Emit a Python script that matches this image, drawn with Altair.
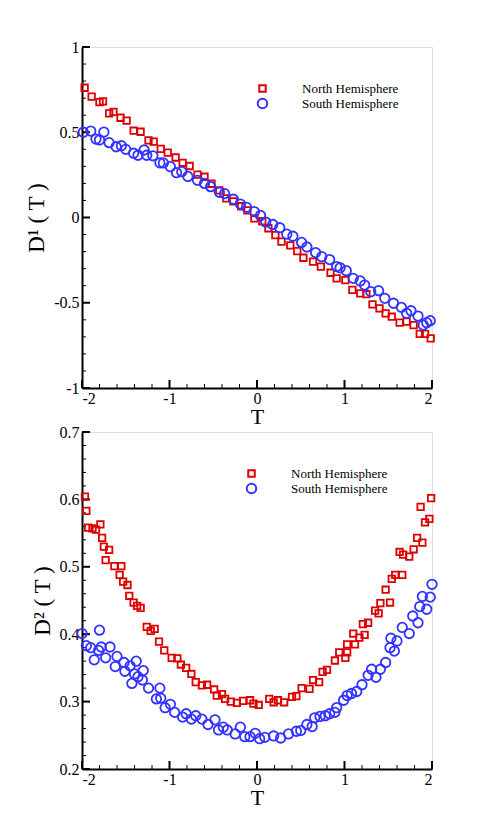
import altair as alt
import pandas as pd

# ---------------- data: top panel D1(T) ----------------
T1_N = [-1.97, -1.89, -1.80, -1.76, -1.69, -1.64, -1.56, -1.49, -1.41, -1.33,
        -1.24, -1.18, -1.10, -1.02, -0.93, -0.85, -0.77, -0.68, -0.60, -0.52,
        -0.43, -0.35, -0.27, -0.18, -0.11, -0.03, 0.06, 0.13, 0.21, 0.28,
        0.38, 0.46, 0.53, 0.64, 0.73, 0.84, 0.91, 1.01, 1.09, 1.18,
        1.25, 1.32, 1.40, 1.47, 1.54, 1.63, 1.71, 1.79, 1.86, 1.92, 1.985]
D1_N = [0.761, 0.709, 0.677, 0.681, 0.611, 0.620, 0.585, 0.568, 0.509, 0.503,
        0.452, 0.445, 0.403, 0.380, 0.352, 0.321, 0.302, 0.251, 0.239, 0.198,
        0.159, 0.112, 0.095, 0.066, 0.042, -0.005, -0.022, -0.063, -0.103, -0.142,
        -0.164, -0.197, -0.236, -0.259, -0.288, -0.324, -0.357, -0.367, -0.425, -0.445,
        -0.450, -0.509, -0.533, -0.562, -0.582, -0.617, -0.611, -0.631, -0.683, -0.683, -0.709]
T1_S = [-1.985, -1.90, -1.84, -1.80, -1.75, -1.69, -1.61, -1.55, -1.50, -1.41,
        -1.36, -1.29, -1.26, -1.19, -1.11, -1.07, -0.99, -0.92, -0.86, -0.79,
        -0.68, -0.60, -0.53, -0.43, -0.37, -0.27, -0.19, -0.12, -0.03, 0.04,
        0.10, 0.18, 0.26, 0.34, 0.41, 0.51, 0.57, 0.67, 0.74, 0.83,
        0.91, 0.95, 1.02, 1.10, 1.18, 1.23, 1.30, 1.39, 1.46, 1.56,
        1.65, 1.71, 1.76, 1.84, 1.90, 1.94, 1.98]
D1_S = [0.500, 0.507, 0.460, 0.455, 0.501, 0.439, 0.415, 0.421, 0.400, 0.377,
        0.365, 0.396, 0.365, 0.362, 0.321, 0.320, 0.298, 0.263, 0.269, 0.241,
        0.218, 0.200, 0.181, 0.148, 0.140, 0.107, 0.079, 0.060, 0.034, 0.012,
        -0.027, -0.041, -0.060, -0.098, -0.110, -0.146, -0.173, -0.206, -0.230, -0.247,
        -0.288, -0.295, -0.312, -0.357, -0.372, -0.396, -0.435, -0.429, -0.474, -0.503,
        -0.527, -0.562, -0.547, -0.578, -0.631, -0.617, -0.605]

# ---------------- data: bottom panel D2(T) ----------------
T2_N = [-1.966, -1.95, -1.93, -1.88, -1.84, -1.79, -1.77, -1.75, -1.73, -1.69,
        -1.63, -1.55, -1.57, -1.53, -1.48, -1.46, -1.41, -1.37, -1.33, -1.26,
        -1.215, -1.17, -1.12, -1.06, -0.975, -0.91, -0.87, -0.81, -0.75, -0.70,
        -0.63, -0.57, -0.49, -0.46, -0.40, -0.365, -0.30, -0.23, -0.16, -0.08,
        -0.04, 0.02, 0.14, 0.19, 0.24, 0.31, 0.40, 0.45, 0.51, 0.60,
        0.64, 0.71, 0.75, 0.80, 0.89, 0.94, 1.01, 1.03, 1.03, 1.10,
        1.12, 1.17, 1.23, 1.21, 1.27, 1.35, 1.39, 1.41, 1.47, 1.52,
        1.54, 1.58, 1.66, 1.63, 1.67, 1.74, 1.79, 1.83, 1.89, 1.92,
        1.97, 1.87, 1.99]
D2_N = [0.604, 0.583, 0.558, 0.557, 0.555, 0.563, 0.543, 0.530, 0.510, 0.525,
        0.501, 0.501, 0.488, 0.478, 0.473, 0.457, 0.447, 0.442, 0.439, 0.411,
        0.405, 0.408, 0.389, 0.376, 0.365, 0.364, 0.355, 0.350, 0.341, 0.329,
        0.324, 0.325, 0.318, 0.309, 0.311, 0.304, 0.300, 0.298, 0.301, 0.302,
        0.297, 0.295, 0.304, 0.299, 0.302, 0.299, 0.307, 0.308, 0.320, 0.319,
        0.332, 0.329, 0.344, 0.347, 0.361, 0.373, 0.365, 0.373, 0.385, 0.401,
        0.385, 0.395, 0.399, 0.415, 0.417, 0.435, 0.431, 0.446, 0.466, 0.447,
        0.482, 0.488, 0.488, 0.522, 0.518, 0.515, 0.526, 0.543, 0.536, 0.566,
        0.571, 0.589, 0.602]
T2_S = [-2.0, -1.95, -1.90, -1.86, -1.81, -1.80, -1.78, -1.73, -1.68, -1.62,
        -1.60, -1.52, -1.51, -1.45, -1.43, -1.40, -1.38, -1.36, -1.31, -1.30,
        -1.24, -1.15, -1.11, -1.10, -1.05, -0.99, -0.94, -0.85, -0.81, -0.75,
        -0.70, -0.63, -0.56, -0.48, -0.44, -0.385, -0.34, -0.25, -0.19, -0.14,
        -0.08, -0.02, 0.03, 0.09, 0.19, 0.27, 0.36, 0.45, 0.50, 0.57,
        0.63, 0.66, 0.72, 0.78, 0.83, 0.89, 0.91, 0.99, 1.03, 1.08,
        1.14, 1.20, 1.27, 1.31, 1.36, 1.41, 1.47, 1.52, 1.53, 1.57,
        1.60, 1.66, 1.74, 1.78, 1.84, 1.86, 1.89, 1.94, 1.98, 2.0]
D2_S = [0.401, 0.383, 0.380, 0.362, 0.376, 0.406, 0.381, 0.365, 0.381, 0.352,
        0.367, 0.358, 0.345, 0.353, 0.327, 0.341, 0.360, 0.337, 0.332, 0.346,
        0.320, 0.304, 0.320, 0.305, 0.291, 0.296, 0.284, 0.277, 0.282, 0.274,
        0.279, 0.274, 0.266, 0.273, 0.258, 0.262, 0.258, 0.252, 0.262, 0.248,
        0.248, 0.253, 0.245, 0.247, 0.249, 0.246, 0.252, 0.256, 0.257, 0.266,
        0.263, 0.276, 0.278, 0.279, 0.282, 0.284, 0.291, 0.302, 0.309, 0.312,
        0.315, 0.325, 0.339, 0.348, 0.336, 0.348, 0.358, 0.380, 0.394, 0.375,
        0.390, 0.410, 0.401, 0.427, 0.417, 0.441, 0.456, 0.437, 0.455, 0.474]

SERIES = ["North Hemisphere", "South Hemisphere"]
COLORS = ["#dd0000", "#3333ff"]
SHAPES = ["square", "circle"]

X_MAJOR = [-2, -1, 0, 1, 2]
X_MINOR = [-1.8, -1.6, -1.4, -1.2, -0.8, -0.6, -0.4, -0.2, 0.2, 0.4, 0.6, 0.8,
           1.2, 1.4, 1.6, 1.8]
Y1_MAJOR = [-1, -0.5, 0, 0.5, 1]
Y1_MINOR = [-0.9, -0.8, -0.7, -0.6, -0.4, -0.3, -0.2, -0.1, 0.1, 0.2, 0.3, 0.4,
            0.6, 0.7, 0.8, 0.9]
Y2_MAJOR = [0.2, 0.3, 0.4, 0.5, 0.6, 0.7]
Y2_MINOR = [0.22, 0.24, 0.26, 0.28, 0.32, 0.34, 0.36, 0.38, 0.42, 0.44, 0.46, 0.48,
            0.52, 0.54, 0.56, 0.58, 0.62, 0.64, 0.66, 0.68]

FONT = "Liberation Serif"
W = 350


def panel(tn, dn, ts, ds, ydom, ymaj, ymin, ytitle, h, lx, ly):
    df = pd.DataFrame({
        "T": tn + ts,
        "D": dn + ds,
        "series": [SERIES[0]] * len(tn) + [SERIES[1]] * len(ts),
    })
    xs = alt.Scale(domain=[-2, 2], nice=False, zero=False)
    ys = alt.Scale(domain=ydom, nice=False, zero=False)
    xaxis = alt.Axis(values=X_MAJOR, ticks=False, grid=False, title="T",
                     labelExpr="'' + datum.value", labelFont=FONT, labelFontSize=16,
                     labelColor="black", labelPadding=2, titleFont=FONT,
                     titleFontSize=22, titleFontWeight="normal", titleColor="black",
                     titlePadding=0, domainColor="black", domainWidth=2)
    yaxis = alt.Axis(values=ymaj, ticks=False, grid=False, title=ytitle,
                     labelExpr="'' + datum.value", labelFont=FONT, labelFontSize=16,
                     labelColor="black", labelPadding=3, titleFont=FONT,
                     titleFontSize=23, titleFontWeight="normal", titleColor="black",
                     titlePadding=5, domainColor="black", domainWidth=2)
    pts = alt.Chart(df).mark_point(filled=False, strokeWidth=1.8, opacity=1).encode(
        x=alt.X("T:Q", scale=xs, axis=xaxis),
        y=alt.Y("D:Q", scale=ys, axis=yaxis),
        color=alt.Color("series:N", scale=alt.Scale(domain=SERIES, range=COLORS),
                        legend=alt.Legend(title=None, orient="none", legendX=lx, legendY=ly,
                                          labelFont=FONT, labelFontSize=13,
                                          labelColor="black", labelOffset=33,
                                          symbolStrokeWidth=2, rowPadding=-2)),
        shape=alt.Shape("series:N", scale=alt.Scale(domain=SERIES, range=SHAPES)),
        size=alt.Size("series:N", scale=alt.Scale(domain=SERIES, range=[42, 90]), legend=None),
        order=alt.Order("ord:Q"),
    ).transform_calculate(ord="datum.series == 'North Hemisphere' ? 0 : 1")

    xmaj = alt.Chart(pd.DataFrame({"v": X_MAJOR})).mark_rule(color="black", strokeWidth=2).encode(
        x=alt.X("v:Q", scale=xs), y=alt.value(h), y2=alt.value(h - 8))
    xmin = alt.Chart(pd.DataFrame({"v": X_MINOR})).mark_rule(color="black", strokeWidth=1).encode(
        x=alt.X("v:Q", scale=xs), y=alt.value(h), y2=alt.value(h - 4))
    ymj = alt.Chart(pd.DataFrame({"v": ymaj})).mark_rule(color="black", strokeWidth=2).encode(
        y=alt.Y("v:Q", scale=ys), x=alt.value(0), x2=alt.value(8))
    ymn = alt.Chart(pd.DataFrame({"v": ymin})).mark_rule(color="black", strokeWidth=1).encode(
        y=alt.Y("v:Q", scale=ys), x=alt.value(0), x2=alt.value(4))
    return alt.layer(xmin, xmaj, ymn, ymj, pts).properties(width=W, height=h)


top = panel(T1_N, D1_N, T1_S, D1_S, [-1, 1], Y1_MAJOR, Y1_MINOR, "D\u00b9 ( T )", 341, 174, 35)
bottom = panel(T2_N, D2_N, T2_S, D2_S, [0.2, 0.7], Y2_MAJOR, Y2_MINOR, "D\u00b2 ( T )", 337, 163, 35)

chart = alt.vconcat(top, bottom, spacing=-5).resolve_scale(
    color="independent", shape="independent", size="independent"
).resolve_legend(
    color="independent", shape="independent", size="independent"
).configure_view(
    stroke="black", strokeWidth=1.5
).configure(background="white", padding={"left": 17, "top": 30, "right": 10, "bottom": 5})

chart.save("out.html", embed_options={"renderer": "svg", "actions": False})
